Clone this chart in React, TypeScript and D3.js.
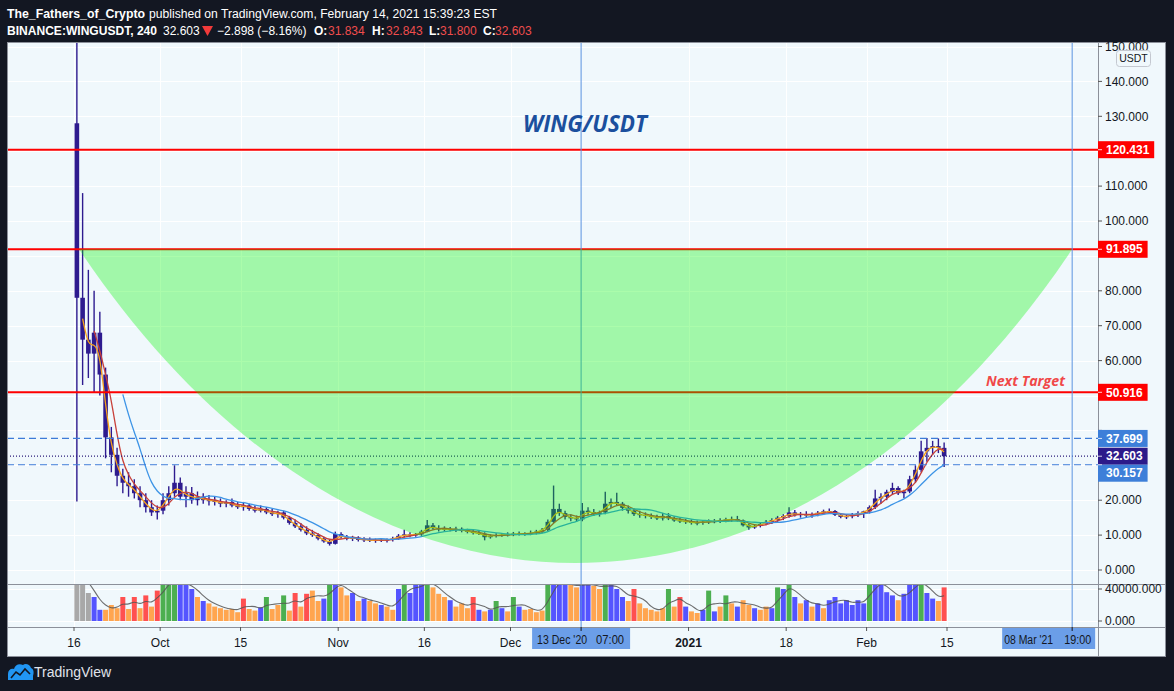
import React from 'react';
import * as d3 from 'd3';

// ---------- DATA (daily candles, 16 Sep 2020 .. 14 Feb 2021) ----------
const firstOpen = 128;
const closePrices = [
  78, 66, 62, 68, 56, 38, 33, 27, 25, 24,
  22, 20, 18, 16.5, 17, 20, 22, 25, 21, 22,
  20, 21, 20, 20, 19.5, 19, 19.5, 18.5, 18, 18.5,
  17.5, 17, 17.5, 16.5, 16, 16.5, 15, 13.5, 12.5, 11.5,
  10.5, 10, 9, 8.2, 7.5, 10.3, 9.5, 9, 9.3, 8.6,
  8.8, 8.4, 8.6, 8.5, 8.7, 9.0, 9.8, 10.2, 10, 10.2,
  11, 12.8, 12, 11.6, 11.8, 11.5, 11.8, 11.2, 11, 10.6,
  10.4, 9.4, 9.8, 10, 10.1, 10.2, 10.4, 10.3, 10.5, 10.6,
  11, 11.5, 13.8, 17.5, 16.3, 15.2, 14.8, 14.5, 17, 16.6,
  16, 16.5, 19, 19.5, 19, 17.8, 17, 16, 15.8, 15.5,
  15.2, 14.8, 15.5, 14.8, 14.2, 14, 13.8, 13.5, 13.6, 13.8,
  14, 13.9, 14.3, 14.5, 14.6, 14.2, 12.8, 12.2, 12.6, 13.2,
  13.8, 14.3, 15, 15.5, 16.5, 15.8, 16, 15.6, 16, 16.4,
  16.8, 16.9, 15.8, 15.2, 15.4, 15.8, 16.3, 16.8, 18, 20.5,
  21, 22.4, 23.5, 22, 22.5, 26, 28.7, 34, 35, 35.5,
  35, 32.603,
];
const highPrices = [
  155, 108, 86, 80, 74, 58, 41, 35, 29, 28,
  26, 24, 22, 20, 18.5, 22, 24, 30, 26.5, 24,
  23.8, 22.5, 22, 21.5, 21, 20.5, 20, 20.5, 19.5, 19.5,
  19, 18.5, 18.5, 18, 17.5, 17, 17, 15.5, 14.5, 13.5,
  12.5, 11.5, 10.5, 9.5, 8.8, 11, 10.8, 10, 9.8, 9.7,
  9.4, 9.3, 9.0, 9.2, 9.0, 9.5, 10.3, 11.5, 10.8, 10.6,
  11.5, 14.3, 13.5, 12.8, 12.5, 12.3, 12.4, 12.2, 11.8, 11.5,
  11.2, 10.8, 10.2, 10.5, 10.6, 10.8, 10.9, 11, 10.8, 11.3,
  11.5, 12, 14.5, 24.2, 19, 17, 16, 15.6, 19.2, 18,
  17.5, 17, 22.4, 20.5, 22.1, 19.5, 18.5, 17.6, 17, 16.5,
  16.2, 15.8, 16.3, 16.3, 15.4, 14.9, 14.6, 14.5, 14.2, 14.3,
  14.5, 14.6, 14.8, 15, 15.3, 15.5, 14.5, 13.3, 13, 13.6,
  14.3, 14.8, 15.5, 16, 18, 17.2, 16.6, 16.8, 16.5, 16.9,
  17.3, 17.6, 17.2, 16.2, 16, 16.3, 16.8, 17, 18.5, 23,
  22, 23, 25, 24, 23, 27, 30, 37, 37.8, 37,
  37.7, 36.5,
];
const lowPrices = [
  19.6, 53, 55, 51, 50, 32, 28, 24, 22, 21,
  20.5, 18, 16.5, 15.5, 14.5, 16, 18.5, 21, 20, 18,
  19, 18.5, 19, 18.5, 18.5, 18, 18, 18, 17.5, 17,
  17, 16.5, 16.5, 16, 15.5, 15, 14.5, 13, 12, 11,
  10, 9.5, 8.5, 7.8, 7.0, 7.3, 9, 8.5, 8.3, 8.2,
  8.0, 8.0, 7.8, 8.0, 7.9, 8.2, 8.6, 9.3, 9.4, 9.5,
  9.8, 10.8, 11.5, 11, 11, 11.1, 10.9, 10.8, 10.5, 10.2,
  10, 8.5, 9, 9.3, 9.5, 9.6, 9.7, 9.9, 9.8, 10,
  10.2, 10.5, 11.2, 13.5, 15.5, 14.5, 14, 13.8, 14, 15.8,
  15.5, 15.3, 16, 17.8, 18.5, 17, 16.2, 15.5, 15, 14.8,
  14.6, 14.3, 14.2, 14.3, 13.8, 13.5, 13.2, 13, 12.8, 13,
  13.2, 13.4, 13.5, 13.7, 13.8, 13.9, 12.5, 11.5, 11.8, 12.2,
  12.8, 13.2, 13.8, 14.3, 15, 15.3, 15, 15.2, 15, 15.4,
  15.8, 16.2, 15.5, 14.8, 14.6, 14.8, 15.2, 14.9, 16.2, 17.5,
  19, 20, 21.5, 21.5, 20.6, 22, 25, 28, 31, 33,
  33.5, 29.5,
];
// volume in thousands (4h-bar scale)
const volumesK = [
  60, 50, 35, 30, 14, 14, 20, 16, 30, 15,
  30, 16, 32, 18, 38, 50, 50, 50, 46, 46,
  40, 30, 25, 22, 18, 16, 14, 15, 11, 28,
  15, 13, 17, 30, 15, 20, 32, 13, 35, 18,
  34, 38, 25, 28, 48, 48, 42, 32, 35, 25,
  28, 25, 22, 20, 18, 14, 40, 45, 35, 45,
  48, 50, 42, 34, 30, 26, 18, 22, 16, 30,
  14, 12, 14, 25, 16, 12, 30, 18, 14, 15,
  11, 13, 48, 50, 48, 45, 45, 42, 48, 45,
  44, 40, 46, 46, 40, 30, 25, 40, 22, 16,
  14, 12, 16, 40, 18, 30, 18, 12, 10, 14,
  38, 12, 18, 32, 22, 18, 26, 20, 16, 14,
  18, 16, 42, 40, 45, 30, 22, 26, 18, 22,
  16, 26, 30, 22, 26, 20, 26, 22, 48, 50,
  45, 36, 32, 26, 34, 45, 48, 50, 35, 28,
  25, 42,
];
// g gray, o orange, b blue, G green, r red
const volumeColorCodes = [
  'gggbboooro', 'rororGGGbb', 'boboooooor', 'oobGooGoro', 'roobGboobo',
  'booboobGbb', 'bGooobooor', 'bobGboGboo', 'ooGbbboobb', 'ooGbbboroo',
  'oooGorboob', 'GboGoboobo', 'obGbGbobob', 'obbbbbbbGb', 'bbbobbbGbb', 'or',
].join('');

const priceTicks = d3.range(0, 151, 10);
const volumeTicks = [0, 40000];
const timeTicks: { d: Date; label: string; bold?: boolean }[] = [
  { d: new Date(2020, 8, 16), label: '16' },
  { d: new Date(2020, 9, 1), label: 'Oct' },
  { d: new Date(2020, 9, 15), label: '15' },
  { d: new Date(2020, 10, 1), label: 'Nov' },
  { d: new Date(2020, 10, 16), label: '16' },
  { d: new Date(2020, 11, 1), label: 'Dec' },
  { d: new Date(2021, 0, 1), label: '2021', bold: true },
  { d: new Date(2021, 0, 18), label: '18' },
  { d: new Date(2021, 1, 1), label: 'Feb' },
  { d: new Date(2021, 1, 15), label: '15' },
];
const redLevels = [120.431, 91.895, 50.916];
const bandUpper = 37.699;
const bandLower = 30.157;
const lastPrice = 32.603;
const arcStart = new Date(2020, 8, 16, 21);
const arcEnd = new Date(2021, 2, 8, 19);
const arcTopPrice = 91.895;
const arcLowPrice = 2.0;
const crossDate = new Date(2020, 11, 13, 7);
const markerDate = new Date(2021, 2, 8, 19);
const maPeriods = [2, 4, 9];

// ---------- STYLE ----------
const W = 1174, H = 691;
const L = 7, R = 1098, T = 42, PB = 584, VB = 627, AB = 657, RA = 1166;
const BG = '#f0f8fc';
const DARK = '#131722';
const CANDLE = '#2e1b8f';
const UI = "'Liberation Sans', Arial, sans-serif";
const maColors = ['#f7a21b', '#c8413a', '#3d94e6'];
const volColor: Record<string, string> = { g: '#a8a8a8', o: '#ffa54f', b: '#5454ff', G: '#4caf50', r: '#ff5050' };

function sma(vals: number[], n: number): (number | null)[] {
  return vals.map((_, i) => (i < n - 1 ? null : (d3.mean(vals.slice(i - n + 1, i + 1)) as number)));
}

export default function App() {
  const x = d3.scaleTime().domain([new Date(2020, 8, 16), new Date(2021, 1, 15)]).range([74, 947]);
  const y = d3.scaleLinear().domain([0, 150]).range([570, 46.5]);
  const yV = d3.scaleLinear().domain([0, 40000]).range([621, 589]);

  const candles = closePrices.map((c, i) => ({
    date: new Date(2020, 8, 16 + i, 12),
    o: i === 0 ? firstOpen : closePrices[i - 1],
    h: highPrices[i],
    l: lowPrices[i],
    c,
    v: volumesK[i] * 1000,
    col: volumeColorCodes[i],
  }));

  const mas = maPeriods.map((p) => sma(closePrices, p));
  const volMa = sma(candles.map((k) => k.v), 3);
  const line = d3
    .line<[number, number | null]>()
    .defined((d) => d[1] != null)
    .x((d) => d[0])
    .y((d) => d[1] as number)
    .curve(d3.curveBasis);

  const x0 = x(arcStart), x1 = x(arcEnd), yT = y(arcTopPrice), yLow = y(arcLowPrice);
  const beta = (yLow - yT) / 0.75;
  const alpha = 0.282 * (x1 - x0);
  const arcPath = `M${x0},${yT} C${x0 + alpha},${yT + beta} ${x1 - alpha},${yT + beta} ${x1},${yT} Z`;

  const xc = x(crossDate);
  const xm = x(markerDate);

  // price labels on the axis, stacked so that they never overlap
  const labelDefs = [
    ...redLevels.map((v) => ({ v, fill: '#ff0000' })),
    { v: bandUpper, fill: '#3d7fd9' },
    { v: lastPrice, fill: '#2c1a8a' },
    { v: bandLower, fill: '#3d7fd9' },
  ].sort((a, b) => y(a.v) - y(b.v));
  const BOXH = 17;
  let prevBottom = -Infinity;
  const labels = labelDefs.map((d) => {
    const top = Math.max(y(d.v) - BOXH / 2, prevBottom);
    prevBottom = top + BOXH;
    return { ...d, top, text: d.v.toFixed(3) };
  });
  // axis tick labels covered by a price label are not drawn
  const hiddenTick = (t: number) => labels.some((lb) => y(t) >= lb.top - 1 && y(t) <= lb.top + BOXH + 1);

  return (
    <svg width={W} height={H} style={{ position: 'fixed', left: 0, top: 0 }} xmlns="http://www.w3.org/2000/svg">
      <defs>
        <clipPath id="pricePane">
          <rect x={L} y={T} width={R - L} height={PB - T} />
        </clipPath>
        <clipPath id="volPane">
          <rect x={L} y={PB + 1} width={R - L} height={VB - PB - 1} />
        </clipPath>
      </defs>
      <rect x={0} y={0} width={W} height={H} fill={DARK} />
      <rect x={L} y={T} width={RA - L} height={AB - T} fill={BG} />

      {/* grid */}
      <g stroke="#ffffff" strokeWidth={1}>
        {priceTicks.map((t) => (
          <line key={'gy' + t} x1={L} x2={R} y1={Math.round(y(t)) + 0.5} y2={Math.round(y(t)) + 0.5} />
        ))}
        {timeTicks.map((t, i) => (
          <line key={'gx' + i} x1={Math.round(x(t.d)) + 0.5} x2={Math.round(x(t.d)) + 0.5} y1={T} y2={VB} />
        ))}
        {volumeTicks.map((t) => (
          <line key={'gv' + t} x1={L} x2={R} y1={Math.round(yV(t)) + 0.5} y2={Math.round(yV(t)) + 0.5} />
        ))}
      </g>

      {/* price pane */}
      <g clipPath="url(#pricePane)">
        {candles.map((k, i) => {
          const cx = x(k.date);
          const top = y(Math.max(k.o, k.c));
          const bot = y(Math.min(k.o, k.c));
          return (
            <g key={'c' + i} fill={CANDLE} stroke={CANDLE}>
              <line x1={cx} x2={cx} y1={y(k.h)} y2={y(k.l)} strokeWidth={1.4} />
              <rect x={cx - 2.3} y={top} width={4.6} height={Math.max(1, bot - top)} stroke="none" />
            </g>
          );
        })}
        {mas.map((m, j) => (
          <path
            key={'ma' + j}
            d={line(candles.map((k, i) => [x(k.date), m[i] == null ? null : y(m[i] as number)])) || ''}
            fill="none"
            stroke={maColors[j]}
            strokeWidth={1.3}
          />
        ))}
        <line x1={L} x2={R} y1={y(bandUpper)} y2={y(bandUpper)} stroke="#3d7bd8" strokeWidth={1.2} strokeDasharray="7,4" />
        <line x1={L} x2={R} y1={y(bandLower)} y2={y(bandLower)} stroke="#3d7bd8" strokeWidth={1.2} strokeDasharray="7,4" />
        <line x1={L} x2={R} y1={y(lastPrice)} y2={y(lastPrice)} stroke="#2a1a7a" strokeWidth={1.2} strokeDasharray="1,2" />
        {redLevels.map((v) => (
          <line key={'rl' + v} x1={L} x2={R} y1={y(v)} y2={y(v)} stroke="#ff0000" strokeWidth={2} />
        ))}
        <line x1={xc} x2={xc} y1={T} y2={PB} stroke="#5b93e0" strokeWidth={1} />
        <line x1={xm} x2={xm} y1={T} y2={PB} stroke="#5b93e0" strokeWidth={1} />
        <path d={arcPath} fill="rgb(0,245,0)" fillOpacity={0.33} />
        <text x={523} y={131.5} fontFamily="'Open Sans', sans-serif" fontSize={23} fontWeight={700} fontStyle="italic" fill="#1b4f9e" textLength={124} lengthAdjust="spacingAndGlyphs">
          WING/USDT
        </text>
        <text x={986} y={385.5} fontFamily="'Open Sans', sans-serif" fontSize={14} fontWeight={700} fontStyle="italic" fill="#f04848" textLength={79} lengthAdjust="spacingAndGlyphs">
          Next Target
        </text>
      </g>

      {/* volume pane */}
      <g clipPath="url(#volPane)">
        {candles.map((k, i) => {
          const cx = x(k.date);
          return (
            <rect key={'v' + i} x={cx - 2.5} y={yV(k.v)} width={5} height={yV(0) - yV(k.v)} fill={volColor[k.col]} />
          );
        })}
        <path
          d={line(candles.map((k, i) => [x(k.date), volMa[i] == null ? null : yV(volMa[i] as number)])) || ''}
          fill="none"
          stroke="#555"
          strokeOpacity={0.85}
          strokeWidth={1.1}
        />
        <line x1={xc} x2={xc} y1={PB} y2={VB} stroke="#5b93e0" strokeWidth={1} />
        <line x1={xm} x2={xm} y1={PB} y2={VB} stroke="#5b93e0" strokeWidth={1} />
      </g>

      {/* separators / frame */}
      <g stroke="#8c909a" strokeWidth={1}>
        <line x1={L} x2={RA} y1={PB + 0.5} y2={PB + 0.5} />
        <line x1={L} x2={RA} y1={VB + 0.5} y2={VB + 0.5} />
        <line x1={R + 0.5} x2={R + 0.5} y1={T} y2={AB} />
        <rect x={L + 0.5} y={T + 0.5} width={RA - L - 1} height={AB - T - 1} fill="none" />
      </g>

      {/* right price axis */}
      <g fontFamily={UI} fontSize={12} fill={DARK}>
        {priceTicks.map((t) => (
          <g key={'pt' + t}>
            <line x1={R} x2={R + 4} y1={y(t)} y2={y(t)} stroke="#555" />
            {!hiddenTick(t) && <text x={R + 7} y={y(t) + 4.2}>{t.toFixed(3)}</text>}
          </g>
        ))}
        {volumeTicks.map((t) => (
          <g key={'vt' + t}>
            <line x1={R} x2={R + 4} y1={yV(t)} y2={yV(t)} stroke="#555" />
            <text x={R + 7} y={yV(t) + 4.2}>{t.toFixed(3)}</text>
          </g>
        ))}
      </g>
      {labels.map((lb) => (
        <g key={'lb' + lb.v}>
          <rect x={R} y={lb.top} width={lb.text.length * 6.6 + 10} height={BOXH} fill={lb.fill} />
          <line x1={R} x2={R + 4} y1={y(lb.v)} y2={y(lb.v)} stroke="#ffffff" strokeOpacity={0.8} />
          <text x={R + 8} y={lb.top + BOXH / 2 + 4.2} fontFamily={UI} fontSize={12} fontWeight="bold" fill="#fff">
            {lb.text}
          </text>
        </g>
      ))}
      <rect x={1116.5} y={50.5} width={34} height={16} rx={3} fill={BG} stroke="#c4c8d0" />
      <text x={1133.5} y={62} textAnchor="middle" fontFamily={UI} fontSize={10.5} fill={DARK}>USDT</text>

      {/* time axis */}
      <g fontFamily={UI} fontSize={12} fill={DARK}>
        {timeTicks.map((t, i) => (
          <g key={'tt' + i}>
            <line x1={x(t.d)} x2={x(t.d)} y1={VB} y2={VB + 4} stroke="#555" />
            <text x={x(t.d)} y={647} textAnchor="middle" fontWeight={t.bold ? 'bold' : 'normal'}>{t.label}</text>
          </g>
        ))}
      </g>
      <g fontFamily={UI} fontSize={12} fill={DARK}>
        <rect x={xc - 49} y={VB + 1} width={98} height={21} fill="#6b9ee8" />
        <line x1={xc} x2={xc} y1={VB} y2={VB + 4} stroke="#131722" />
        <text x={xc - 44} y={643.5} textLength={50} lengthAdjust="spacingAndGlyphs">13 Dec '20</text>
        <text x={xc + 15} y={643.5} textLength={28} lengthAdjust="spacingAndGlyphs">07:00</text>
        <rect x={xm - 70} y={VB + 1} width={93} height={21} fill="#6b9ee8" />
        <line x1={xm} x2={xm} y1={VB} y2={VB + 4} stroke="#131722" />
        <text x={xm - 68} y={643.5} textLength={49} lengthAdjust="spacingAndGlyphs">08 Mar '21</text>
        <text x={xm - 8} y={643.5} textLength={27} lengthAdjust="spacingAndGlyphs">19:00</text>
      </g>

      {/* header */}
      <rect x={0} y={0} width={W} height={T} fill={DARK} />
      <g fontFamily={UI} fontSize={12} fill="#ffffff">
        <text x={7} y={17.5} fontWeight="bold" textLength={138} lengthAdjust="spacingAndGlyphs">The_Fathers_of_Crypto</text>
        <text x={149} y={17.5} textLength={348} lengthAdjust="spacingAndGlyphs">published on TradingView.com, February 14, 2021 15:39:23 EST</text>
        <text x={7} y={34.5} fontWeight="bold" textLength={150} lengthAdjust="spacingAndGlyphs">BINANCE:WINGUSDT, 240</text>
        <text x={163} y={34.5}>32.603</text>
        <path d="M202,26 L213,26 L207.5,36 Z" fill="#f23a3a" />
        <text x={217} y={34.5}>−2.898 (−8.16%)</text>
        <text x={314} y={34.5} fontWeight="bold">O:</text>
        <text x={328} y={34.5} fill="#ef4d4d">31.834</text>
        <text x={372} y={34.5} fontWeight="bold">H:</text>
        <text x={386} y={34.5} fill="#ef4d4d">32.843</text>
        <text x={429} y={34.5} fontWeight="bold">L:</text>
        <text x={440} y={34.5} fill="#ef4d4d">31.800</text>
        <text x={483} y={34.5} fontWeight="bold">C:</text>
        <text x={495} y={34.5} fill="#ef4d4d">32.603</text>
      </g>

      {/* footer logo */}
      <g>
        <path d="M8,680 L8,674 C8,670 11,668 14,669 C15,665 19,663 23,665 C25,663 30,664 31,668 C34,669 34,673 33,676 L33,680 Z" fill="#2196f3" />
        <polyline points="11,678 16,672 20,675 25,669 30,674" fill="none" stroke="#131722" strokeWidth={1.6} />
        <text x={34} y={677} fontFamily={UI} fontSize={14} fill="#e0e3eb">TradingView</text>
      </g>
    </svg>
  );
}
